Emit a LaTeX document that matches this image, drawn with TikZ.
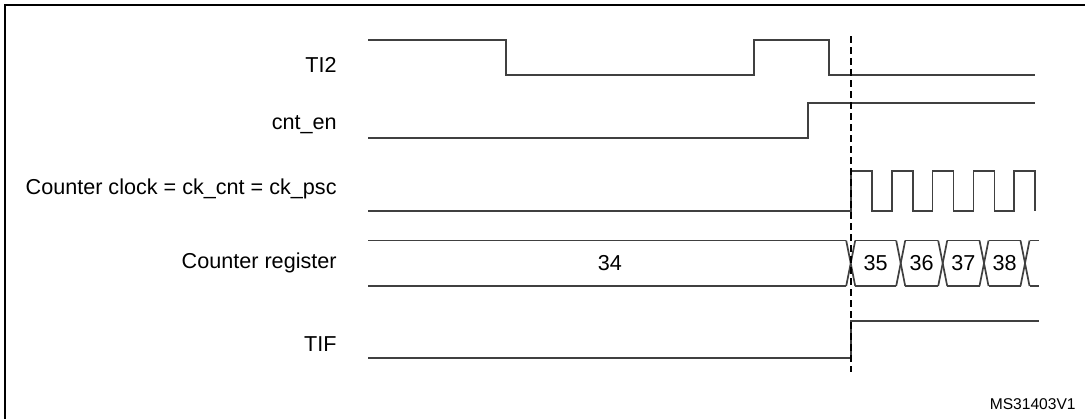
\documentclass[tikz,border=0pt]{standalone}
\usepackage{fontspec}
\setmainfont{Liberation Sans}
\begin{document}
\begin{tikzpicture}[x=0.5pt,y=-0.5pt,
	sig/.style={line width=0.85pt,draw=black!75},
	lbl/.style={anchor=base east,inner sep=0pt,font=\fontsize{10.8}{12}\selectfont},
	val/.style={inner sep=0pt,font=\fontsize{10.8}{12}\selectfont}]
	\useasboundingbox (0,0) rectangle (1085,419);
	%FRAME
	\draw[line width=1pt] (1085,5)--(5,5)--(5,419);
	
	%LABELS
	\node[lbl] (ti2) at (337,72) {TI2};
	\node[lbl] (cnten) at (337,129.3) {cnt\_en};
	\node[lbl] (ckcnt) at (337,194.5) {Counter clock = ck\_cnt = ck\_psc};
	\node[lbl] (cntreg) at (337,268.3) {Counter register};
	\node[lbl] (tif) at (337,351.3) {TIF};
	
	%TI2
	\draw[sig] (368,40)--(506,40)--(506,75)--(754,75)--(754,40)--(829,40)--(829,75)--(1035,75);
	
	%CNT_EN
	\draw[sig] (368,138)--(808,138)--(808,103)--(1035,103);
	
	%CLOCK
	\draw[sig] (368,211)--(851,211) \foreach \x in {851,891.8,932.6,973.4,1014.2} {--(\x,211)--(\x,171)--(\x+21,171)--(\x+21,211)};
	
	%REGISTER
	\foreach \a/\b in {368/846.2,855.2/896.2,905.2/938.2,947.2/979.5,988.5/1020.5,1029.5/1039} {
		\draw[sig] (\a,240.5)--(\b,240.5);
		\draw[sig] (\a,286)--(\b,286);}
	\foreach \c in {850.7,900.7,942.7,984,1025} {
		\draw[sig] (\c-4.5,240.5)--(\c+4.5,286);
		\draw[sig] (\c-4.5,286)--(\c+4.5,240.5);}
	\node[val] (v34) at (609.8,263) {34};
	\node[val] (v35) at (875.7,263) {35};
	\node[val] (v36) at (921.7,263) {36};
	\node[val] (v37) at (963.3,263) {37};
	\node[val] (v38) at (1004.5,263) {38};
	
	%TIF
	\draw[sig] (368,358)--(850.7,358)--(850.7,321)--(1039,321);
	
	%TRIGGER
	\coordinate (trigtop) at (850.7,36);
	\coordinate (trigbot) at (850.7,372);
	\draw[line width=1pt,dash pattern=on 3.5pt off 2pt] (trigtop)--(trigbot);
	
	\node[anchor=base east,inner sep=0pt,font=\fontsize{7.8}{9}\selectfont] (msid) at (1076,409.3) {MS31403V1};
\end{tikzpicture}
\end{document}
